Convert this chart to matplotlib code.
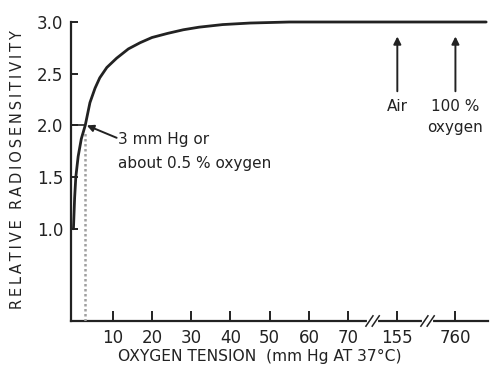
import numpy as np
import matplotlib
matplotlib.use("Agg")
import matplotlib.pyplot as plt

# ---- data ----
tension_mmhg = [0, 0.3, 0.6, 1.2, 2.0, 3.0, 4.2, 5.5, 6.7, 8.5, 11, 14, 17, 20, 24, 28, 32, 38, 45, 55, 70, 155, 760, 1080]
radiosens =    [1.0, 1.3, 1.5, 1.7, 1.87, 2.0, 2.22, 2.36, 2.46, 2.56, 2.65, 2.74, 2.80, 2.85, 2.89, 2.925, 2.95, 2.975, 2.99, 3.0, 3.0, 3.0, 3.0, 3.0]
xtick_values = [10, 20, 30, 40, 50, 60, 70, 155, 760]
xtick_labels = ["10", "20", "30", "40", "50", "60", "70", "155", "760"]
ytick_values = [1.0, 1.5, 2.0, 2.5, 3.0]
ytick_labels = ["1.0", "1.5", "2.0", "2.5", "3.0"]
marker_value = 3          # mm Hg
marker_level = 2.0
air_value = 155
oxygen_value = 760
xlabel_text = "OXYGEN TENSION  (mm Hg AT 37°C)"
ylabel_text = "RELATIVE RADIOSENSITIVITY"

# piecewise (broken) axis scale
_real = np.array([-100.0, 70.0, 155.0, 760.0, 5000.0])
_pos = np.array([-100.0, 70.0, 82.5, 97.3, 97.3 + (5000 - 760) * (97.3 - 82.5) / (760 - 155)])

def fwd(v):
    return np.interp(v, _real, _pos)

def inv(p):
    return np.interp(p, _pos, _real)

def spaced(s):
    return "\u2009".join(s)

ink = "#222222"
fig = plt.figure(figsize=(4.91, 3.71), dpi=100)
ax = fig.add_axes([0.1456, 0.1348, 0.9939 - 0.1456, 0.9407 - 0.1348])
ax.set_xscale("function", functions=(fwd, inv))
ax.set_xlim(inv(-0.5), inv(105.6))
ax.set_ylim(0.108, 3.0)

for s in ["top", "right"]:
    ax.spines[s].set_visible(False)
for s in ["left", "bottom"]:
    ax.spines[s].set_linewidth(1.6)
    ax.spines[s].set_color(ink)

ax.plot(tension_mmhg, radiosens, color=ink, lw=2.0, clip_on=False, solid_capstyle="round", zorder=5)

# dotted marker line at 3 mm Hg
ax.plot([marker_value, marker_value], [0.108, marker_level - 0.05], color="#a0a0a0", lw=1.8,
        ls=(0, (1.0, 1.0)), zorder=3)
ax.plot([inv(-0.5), marker_value], [marker_level, marker_level], color=ink, lw=1.2, zorder=3)

ax.set_xticks(xtick_values)
ax.set_xticklabels(xtick_labels)
ax.set_yticks(ytick_values)
ax.set_yticklabels(ytick_labels)
ax.minorticks_off()
ax.tick_params(axis="x", direction="in", length=7, width=1.4, color=ink, pad=6,
               labelsize=12, labelcolor=ink)
ax.tick_params(axis="y", direction="in", length=5, width=1.4, color=ink, pad=6,
               labelsize=12, labelcolor=ink)

# axis break marks
for p in [76.2, 90.2]:
    ax.plot([inv(p - 0.9), inv(p + 0.9)], [0.108, 0.108], color="white", lw=3, clip_on=False, zorder=6)
    for d in [-0.8, 0.8]:
        ax.plot([inv(p + d - 0.9), inv(p + d + 0.9)], [0.108 - 0.05, 0.108 + 0.05],
                color=ink, lw=1.1, clip_on=False, zorder=7)

# annotation for 3 mm Hg
ax.annotate("", xy=(marker_value + 0.4, marker_level), xytext=(inv(11.0), 1.88),
            arrowprops=dict(arrowstyle="-|>", color=ink, lw=1.4, mutation_scale=10,
                            shrinkA=0, shrinkB=0))
ax.text(inv(11.3), 1.86, "3 mm Hg or", fontsize=11, color=ink, va="center", ha="left")
ax.text(inv(11.3), 1.635, "about 0.5 % oxygen", fontsize=11, color=ink, va="center", ha="left")

# Air / 100 % oxygen arrows
for v in [air_value, oxygen_value]:
    ax.annotate("", xy=(v, 2.86), xytext=(v, 2.33),
                arrowprops=dict(arrowstyle="-|>", color=ink, lw=1.4, mutation_scale=11,
                                shrinkA=0, shrinkB=0))
ax.text(air_value, 2.18, "Air", fontsize=11, color=ink, ha="center", va="center")
ax.text(oxygen_value, 2.18, "100 %", fontsize=11, color=ink, ha="center", va="center")
ax.text(oxygen_value, 1.975, "oxygen", fontsize=11, color=ink, ha="center", va="center")

fig.text(260 / 491, 1 - 356 / 371, xlabel_text, fontsize=11.2,
         color=ink, ha="center", va="center")
fig.text(18 / 491, 1 - 170 / 371, spaced(ylabel_text), fontsize=10.5, rotation=90,
         color=ink, ha="center", va="center")

fig.savefig("out.png", dpi=100)
